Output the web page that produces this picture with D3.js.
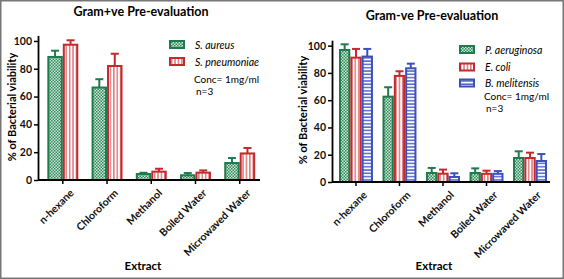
<!DOCTYPE html>
<html>
<head>
<meta charset="utf-8">
<script src="https://cdn.jsdelivr.net/npm/d3@7.9.0/dist/d3.min.js"></script>
<style>
  body { margin: 0; background: #fff; }
  svg { display: block; font-family: Lato, "Open Sans", sans-serif; }
</style>
</head>
<body>
<svg id="chart" width="564" height="279"></svg>
<script>
// ---- data ----
const extracts = ['n-hexane', 'Chloroform', 'Methanol', 'Boiled Water', 'Microwaved Water'];
const yTicks = [0, 20, 40, 60, 80, 100];

const posSeries = ['S. aureus', 'S. pneumoniae'];
const sAureus = [88.5, 66.5, 4.3, 3.4, 12.2];
const sAureusErr = [93, 72.5, 5.2, 5, 15.8];
const sPneumoniae = [97.3, 82, 6, 5.3, 19.1];
const sPneumoniaeErr = [100.5, 90.8, 8.1, 6.9, 23];

const negSeries = ['P. aeruginosa', 'E. coli', 'B. melitensis'];
const pAeruginosa = [96.8, 62.6, 6.6, 6.6, 17.6];
const pAeruginosaErr = [101, 69.5, 10.3, 10, 22.5];
const eColi = [91.2, 77.8, 6.1, 6, 17.6];
const eColiErr = [97.6, 81.2, 9.1, 8.3, 21.5];
const bMelitensis = [92, 83.4, 3.7, 6, 15.4];
const bMelitensisErr = [97.6, 86.8, 6.4, 8, 20.5];

const colors = { green: '#1f7a4d', red: '#c32a2f', blue: '#3b50b8' };

const svg = d3.select('#chart');

// ---- fill patterns ----
const defs = svg.append('defs');
const chk = defs.append('pattern').attr('id', 'p-green')
  .attr('width', 3).attr('height', 3).attr('patternUnits', 'userSpaceOnUse');
chk.append('rect').attr('width', 3).attr('height', 3).attr('fill', '#cfe5d7');
chk.append('rect').attr('width', 1.5).attr('height', 1.5).attr('fill', '#2f8a5c');
chk.append('rect').attr('x', 1.5).attr('y', 1.5).attr('width', 1.5).attr('height', 1.5).attr('fill', '#2f8a5c');

const vs = defs.append('pattern').attr('id', 'p-red')
  .attr('width', 3.4).attr('height', 4).attr('patternUnits', 'userSpaceOnUse');
vs.append('rect').attr('width', 3.4).attr('height', 4).attr('fill', '#fff');
vs.append('rect').attr('x', 1).attr('width', 1.3).attr('height', 4).attr('fill', '#d8686c');

const hs = defs.append('pattern').attr('id', 'p-blue')
  .attr('width', 4).attr('height', 3.3).attr('patternUnits', 'userSpaceOnUse');
hs.append('rect').attr('width', 4).attr('height', 3.3).attr('fill', '#fff');
hs.append('rect').attr('y', 1).attr('width', 4).attr('height', 1.5).attr('fill', '#5568c8');

// outer frame
svg.append('rect').attr('x', 0.75).attr('y', 0.75).attr('width', 562.5).attr('height', 277.5)
  .attr('fill', 'none').attr('stroke', '#777').attr('stroke-width', 1.5);

function drawPanel(cfg) {
  const g = svg.append('g');
  const y = d3.scaleLinear().domain([0, 104]).range([cfg.y0, cfg.yTop]);
  const x = d3.scaleBand().domain(extracts).range([cfg.x0, cfg.x1])
    .paddingInner(cfg.pi).paddingOuter(cfg.po).align(cfg.align);
  const xs = d3.scaleBand().domain(cfg.series.map((s) => s.name)).range([0, x.bandwidth()]);

  // bars + error bars
  cfg.series.forEach((s) => {
    const rows = extracts.map((e, i) => ({ e, v: s.values[i], err: s.errs[i] }));
    const sg = g.append('g');
    sg.selectAll('rect').data(rows).join('rect')
      .attr('x', (d) => x(d.e) + xs(s.name) + 1)
      .attr('y', (d) => y(d.v))
      .attr('width', xs.bandwidth() - 2)
      .attr('height', (d) => y(0) - y(d.v))
      .attr('fill', `url(#p-${s.key})`)
      .attr('stroke', colors[s.key]).attr('stroke-width', 2);
    sg.selectAll('line.err').data(rows).join('line').attr('class', 'err')
      .attr('x1', (d) => x(d.e) + xs(s.name) + xs.bandwidth() / 2)
      .attr('x2', (d) => x(d.e) + xs(s.name) + xs.bandwidth() / 2)
      .attr('y1', (d) => y(d.v)).attr('y2', (d) => y(d.err))
      .attr('stroke', colors[s.key]).attr('stroke-width', 2);
    sg.selectAll('line.cap').data(rows).join('line').attr('class', 'cap')
      .attr('x1', (d) => x(d.e) + xs(s.name) + xs.bandwidth() / 2 - 4)
      .attr('x2', (d) => x(d.e) + xs(s.name) + xs.bandwidth() / 2 + 4)
      .attr('y1', (d) => y(d.err)).attr('y2', (d) => y(d.err))
      .attr('stroke', colors[s.key]).attr('stroke-width', 2);
  });

  // y axis
  const ya = g.append('g').attr('transform', `translate(${cfg.x0},0)`)
    .call(d3.axisLeft(y).tickValues(yTicks).tickSize(4).tickPadding(2).tickSizeOuter(0));
  ya.select('.domain').attr('stroke-width', 1.8);
  ya.selectAll('.tick line').attr('stroke-width', 1.5);
  ya.selectAll('.tick text').attr('font-size', 10.5).attr('font-weight', 'bold')
    .attr('font-family', 'Lato, sans-serif').attr('fill', '#111');

  // x axis
  const xa = g.append('g').attr('transform', `translate(0,${cfg.y0})`)
    .call(d3.axisBottom(x).tickSize(4).tickSizeOuter(0));
  xa.select('.domain').attr('d', `M${cfg.x0},0H${cfg.x1}`).attr('stroke-width', 1.8);
  xa.selectAll('.tick line').attr('stroke-width', 1.5);
  xa.selectAll('.tick text')
    .attr('font-size', 10.5).attr('font-weight', 'bold').attr('font-family', 'Lato, sans-serif')
    .attr('fill', '#111').attr('text-anchor', 'end')
    .attr('transform', 'translate(3,5) rotate(-45)')
    .attr('dy', '0.5em');

  // titles
  g.append('text').attr('x', cfg.titleX).attr('y', cfg.titleY).attr('text-anchor', 'middle')
    .attr('font-size', 12.5).attr('font-weight', 'bold').text(cfg.title);
  g.append('text').attr('x', cfg.titleX + 2).attr('y', 270).attr('text-anchor', 'middle')
    .attr('font-size', 11.5).attr('font-weight', 'bold').text('Extract');
  g.append('text').attr('transform', `translate(${cfg.ylabX},${cfg.ylabY}) rotate(-90)`)
    .attr('text-anchor', 'middle').attr('font-size', 11).attr('font-weight', 'bold')
    .text('% of Bacterial viability');

  // legend
  const lg = g.append('g');
  cfg.series.forEach((s, i) => {
    const cy = cfg.legY[i];
    lg.append('rect').attr('x', cfg.legX).attr('y', cy - 3.5).attr('width', 14).attr('height', 7)
      .attr('fill', `url(#p-${s.key})`).attr('stroke', colors[s.key]).attr('stroke-width', 2);
    lg.append('text').attr('x', cfg.legX + 25).attr('y', cy + 4)
      .attr('font-size', 10.5).attr('font-style', 'italic').text(s.name);
  });
  lg.append('text').attr('x', cfg.legX + 24).attr('y', cfg.concY)
    .attr('font-size', 10).text('Conc= 1mg/ml');
  lg.append('text').attr('x', cfg.legX + 26).attr('y', cfg.concY + 12)
    .attr('font-size', 10).text('n=3');
}

drawPanel({
  x0: 38, x1: 260, y0: 180, yTop: 35.4, pi: 0.3, po: 0.16, align: 0.66,
  title: 'Gram+ve Pre-evaluation', titleX: 141, titleY: 16, ylabX: 16, ylabY: 107,
  legX: 170, legY: [44.5, 61.5], concY: 83,
  series: [
    { name: posSeries[0], key: 'green', values: sAureus, errs: sAureusErr },
    { name: posSeries[1], key: 'red', values: sPneumoniae, errs: sPneumoniaeErr },
  ],
});

drawPanel({
  x0: 332, x1: 550, y0: 182, yTop: 40.2, pi: 0.22, po: 0.115, align: 0.7,
  title: 'Gram-ve Pre-evaluation', titleX: 432, titleY: 20, ylabX: 307, ylabY: 110,
  legX: 460, legY: [49.5, 67, 83], concY: 100,
  series: [
    { name: negSeries[0], key: 'green', values: pAeruginosa, errs: pAeruginosaErr },
    { name: negSeries[1], key: 'red', values: eColi, errs: eColiErr },
    { name: negSeries[2], key: 'blue', values: bMelitensis, errs: bMelitensisErr },
  ],
});
</script>
</body>
</html>
